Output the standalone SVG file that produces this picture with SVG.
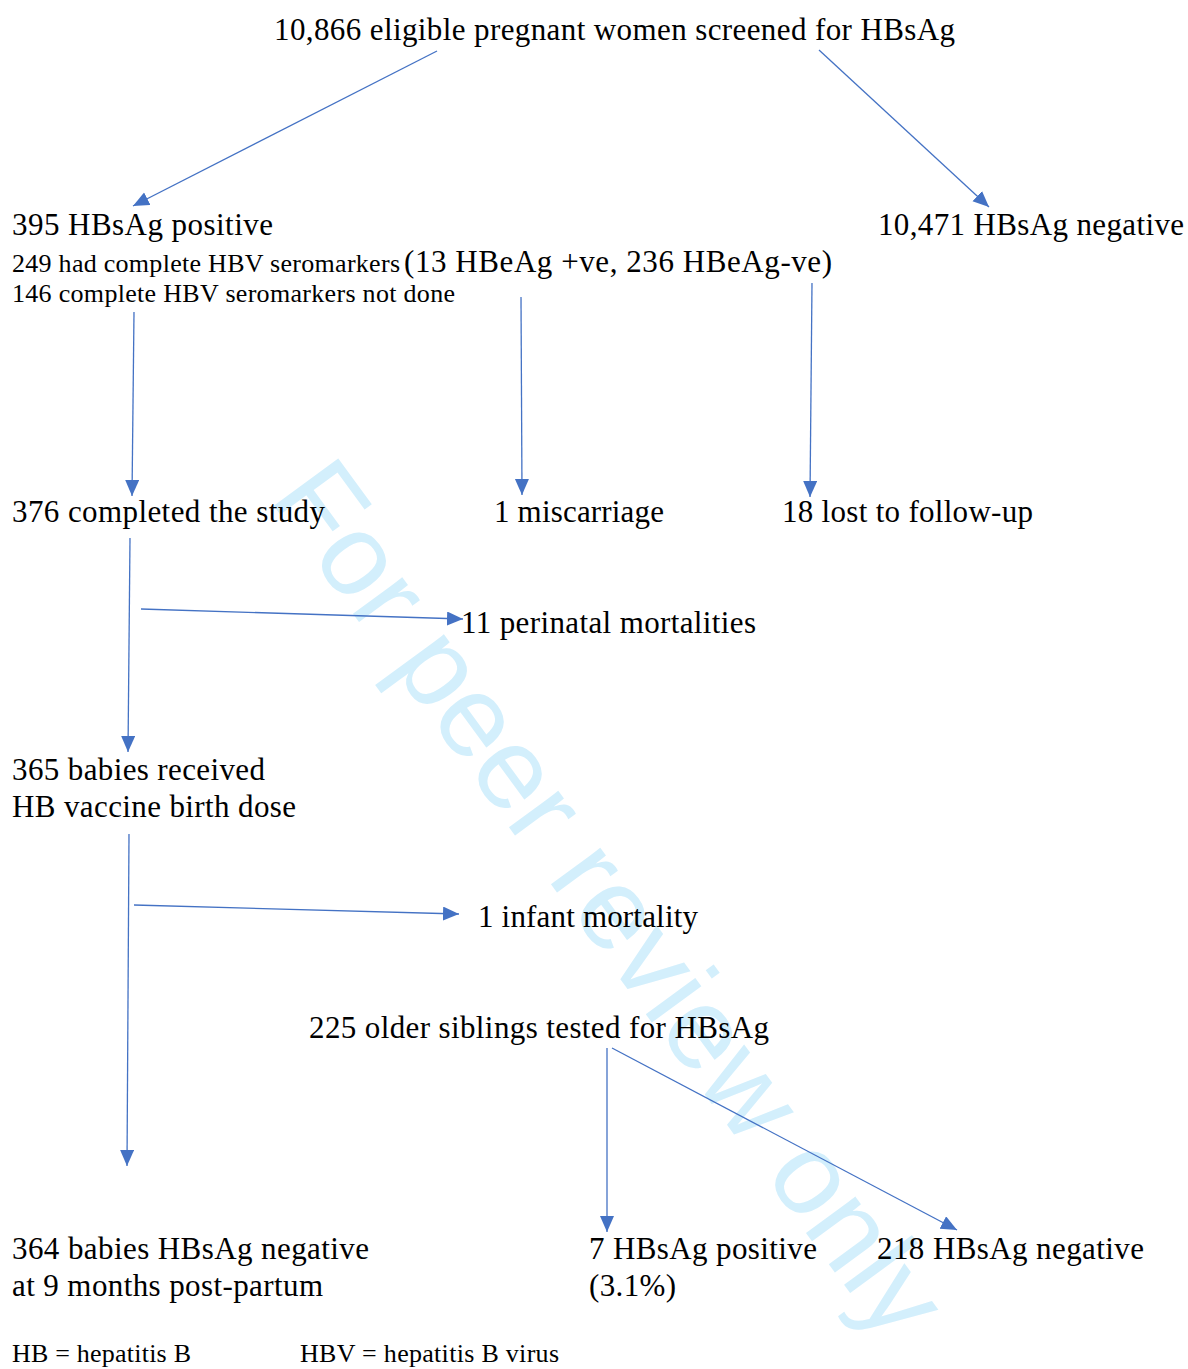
<svg xmlns="http://www.w3.org/2000/svg" width="1188" height="1369" viewBox="0 0 1188 1369">
<style>
.t{font-family:"Liberation Serif","Times New Roman",serif;font-size:31px;fill:#000}
.s{font-size:26px}
.c{stroke:#4472C4;stroke-width:1.3;fill:none;marker-end:url(#ah)}
.wm{font-family:"Liberation Sans",Arial,sans-serif;font-size:116px;fill:#d3effc}
</style>
<defs>
<marker id="ah" markerUnits="userSpaceOnUse" markerWidth="18" markerHeight="16" refX="16" refY="7" orient="auto">
<path d="M0,0 L16,7 L0,14 Z" fill="#4472C4"/>
</marker>
</defs>
<rect width="1188" height="1369" fill="#fff"/>
<g id="watermark">
<text class="wm" transform="translate(606,902) rotate(53.8)" x="0" y="34" text-anchor="middle">For peer review only</text>
</g>
<g id="connectors">
<line class="c" x1="437" y1="51" x2="133" y2="206"/>
<line class="c" x1="819" y1="50" x2="989" y2="207"/>
<line class="c" x1="134" y1="312" x2="132" y2="496"/>
<line class="c" x1="521" y1="297" x2="522" y2="495"/>
<line class="c" x1="812" y1="283" x2="810" y2="497"/>
<line class="c" x1="130" y1="538" x2="128" y2="752"/>
<line class="c" x1="141" y1="609" x2="463" y2="619"/>
<line class="c" x1="129" y1="834" x2="127" y2="1166"/>
<line class="c" x1="134" y1="905" x2="459" y2="914"/>
<line class="c" x1="607" y1="1048" x2="607" y2="1232"/>
<line class="c" x1="612" y1="1048" x2="957" y2="1230"/>
</g>
<g id="screened"><text class="t" x="274" y="40" textLength="681" lengthAdjust="spacing">10,866 eligible pregnant women screened for HBsAg</text></g>
<g id="positive">
<text class="t" x="12" y="235" textLength="261" lengthAdjust="spacing">395 HBsAg positive</text>
<text class="t s" x="12" y="272" textLength="388" lengthAdjust="spacing">249 had complete HBV seromarkers</text>
<text class="t" x="404" y="272" textLength="428" lengthAdjust="spacing">(13 HBeAg +ve, 236 HBeAg-ve)</text>
<text class="t s" x="12" y="302" textLength="443" lengthAdjust="spacing">146 complete HBV seromarkers not done</text>
</g>
<g id="negative"><text class="t" x="878" y="235" textLength="306" lengthAdjust="spacing">10,471 HBsAg negative</text></g>
<g id="completed"><text class="t" x="12" y="522" textLength="313" lengthAdjust="spacing">376 completed the study</text></g>
<g id="miscarriage"><text class="t" x="494" y="522" textLength="170" lengthAdjust="spacing">1 miscarriage</text></g>
<g id="lost"><text class="t" x="782" y="522" textLength="251" lengthAdjust="spacing">18 lost to follow-up</text></g>
<g id="perinatal"><text class="t" x="461" y="633" textLength="295" lengthAdjust="spacing">11 perinatal mortalities</text></g>
<g id="vaccine">
<text class="t" x="12" y="780" textLength="253" lengthAdjust="spacing">365 babies received</text>
<text class="t" x="12" y="817" textLength="284" lengthAdjust="spacing">HB vaccine birth dose</text>
</g>
<g id="infant"><text class="t" x="478" y="927" textLength="220" lengthAdjust="spacing">1 infant mortality</text></g>
<g id="siblings"><text class="t" x="309" y="1038" textLength="460" lengthAdjust="spacing">225 older siblings tested for HBsAg</text></g>
<g id="babies-negative">
<text class="t" x="12" y="1259" textLength="357" lengthAdjust="spacing">364 babies HBsAg negative</text>
<text class="t" x="12" y="1296" textLength="311" lengthAdjust="spacing">at 9 months post-partum</text>
</g>
<g id="sib-positive">
<text class="t" x="589" y="1259" textLength="228" lengthAdjust="spacing">7 HBsAg positive</text>
<text class="t" x="589" y="1296" textLength="87" lengthAdjust="spacing">(3.1%)</text>
</g>
<g id="sib-negative"><text class="t" x="877" y="1259" textLength="267" lengthAdjust="spacing">218 HBsAg negative</text></g>
<g id="legend">
<text class="t s" x="12" y="1362" textLength="179" lengthAdjust="spacing">HB = hepatitis B</text>
<text class="t s" x="300" y="1362" textLength="259" lengthAdjust="spacing">HBV = hepatitis B virus</text>
</g>
</svg>
